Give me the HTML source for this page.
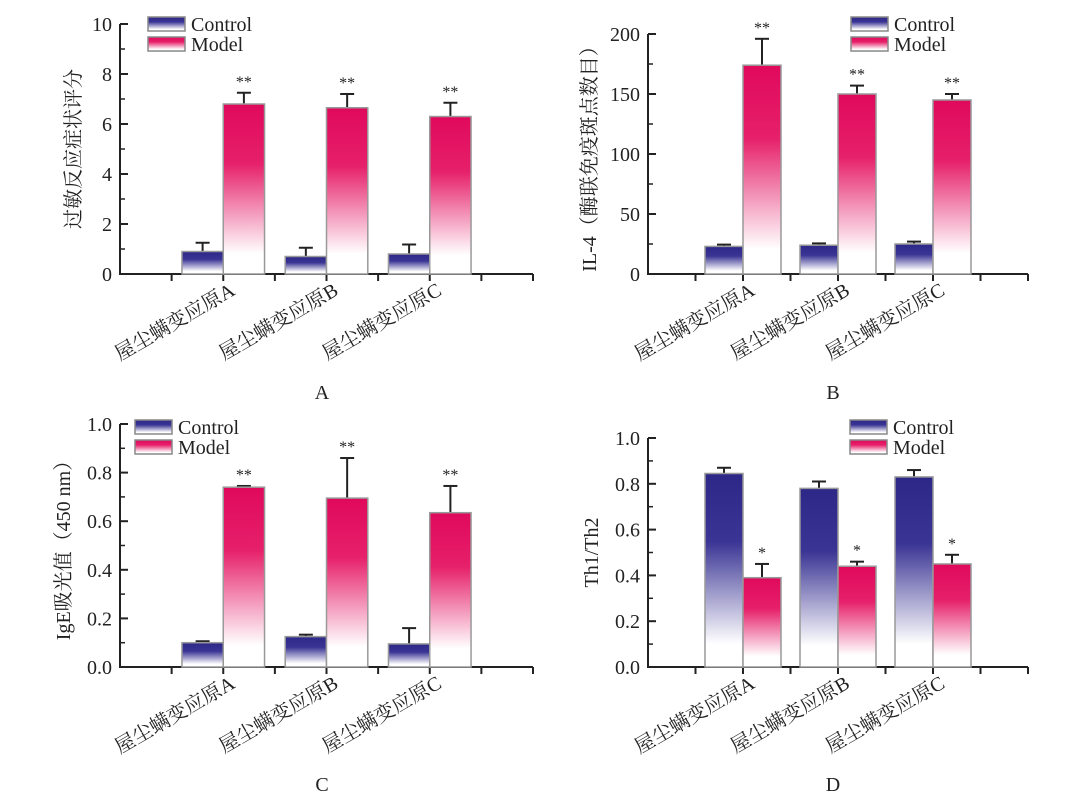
<!DOCTYPE html>
<html><head><meta charset="utf-8">
<style>
html,body{margin:0;padding:0;background:#fff;}
svg{display:block;font-family:"Liberation Serif","Noto Serif CJK SC",serif;}
</style></head>
<body>
<svg id="fig" width="1080" height="798" viewBox="0 0 1080 798" xmlns="http://www.w3.org/2000/svg">
<defs>
<linearGradient id="gC" x1="0" y1="0" x2="0" y2="1"><stop offset="0" stop-color="#2d2888"/><stop offset="0.35" stop-color="#3a3494"/><stop offset="0.88" stop-color="#ffffff"/></linearGradient>
<linearGradient id="gM" x1="0" y1="0" x2="0" y2="1"><stop offset="0" stop-color="#e0095c"/><stop offset="0.35" stop-color="#e6206a"/><stop offset="0.88" stop-color="#ffffff"/></linearGradient>
</defs>
</svg>
<script>
const categories = ["屋尘螨变应原A","屋尘螨变应原B","屋尘螨变应原C"];
const aControl = [0.9,0.7,0.8], aControlErr = [0.35,0.35,0.38];
const aModel = [6.8,6.65,6.3], aModelErr = [0.45,0.55,0.55];
const aTicks = ["0","2","4","6","8","10"];
const bControl = [23,24,25], bControlErr = [1.5,1.5,2];
const bModel = [174,150,145], bModelErr = [22,7,5];
const bTicks = ["0","50","100","150","200"];
const cControl = [0.1,0.125,0.095], cControlErr = [0.006,0.008,0.065];
const cModel = [0.74,0.695,0.635], cModelErr = [0.005,0.165,0.11];
const cTicks = ["0.0","0.2","0.4","0.6","0.8","1.0"];
const dControl = [0.845,0.78,0.83], dControlErr = [0.025,0.03,0.03];
const dModel = [0.39,0.44,0.45], dModelErr = [0.06,0.02,0.04];
const dTicks = ["0.0","0.2","0.4","0.6","0.8","1.0"];
const aStars = ["**","**","**"], bStars = ["**","**","**"], cStars = ["**","**","**"], dStars = ["*","*","*"];

const svg = document.getElementById('fig');
const NS = "http://www.w3.org/2000/svg";
function mk(tag, attrs, parent){const e=document.createElementNS(NS,tag);for(const k in attrs)e.setAttribute(k,attrs[k]);(parent||svg).appendChild(e);return e;}

function panel(o){
  const g = mk('g',{});
  
  
  const x0=o.x0, x1=o.x1, yTop=o.yTop, yBot=o.yBot, max=o.max;
  const ys = v => yBot - (v/max)*(yBot-yTop);
  const step=(x1-x0)/8;
  const xs = i => x0 + step*(2+2*i);
  const ax = mk('path',{d:`M${x0} ${yTop} V${yBot} H${x1}`,stroke:'#222','stroke-width':2,fill:'none'},g);
  
  
  for(let k=1;k<=8;k++){mk('line',{x1:x0+step*k,y1:yBot,x2:x0+step*k,y2:yBot+7,stroke:'#222','stroke-width':2},g);}
  const nT=o.ticks.length;
  for(let k=0;k<nT;k++){
    const v = max*k/(nT-1), y=ys(v);
    mk('line',{x1:x0,y1:y,x2:x0+8,y2:y,stroke:'#222','stroke-width':2},g);
    if(k<nT-1){const ym=ys(v+max/(nT-1)/2);mk('line',{x1:x0,y1:ym,x2:x0+5,y2:ym,stroke:'#222','stroke-width':1.5},g);}
    const t=mk('text',{x:x0-8,y:y+7,'text-anchor':'end','font-size':20,fill:'#222'},g);
    t.textContent=o.ticks[k];
    
    
  }
  const bw=step*0.8;
  for(let i=0;i<3;i++){
    const cx=xs(i);
    [[o.ctrl,o.ctrlErr,'url(#gC)',cx-bw,'control'],[o.model,o.modelErr,'url(#gM)',cx,'model']].forEach(([vals,errs,fill,bx,nm])=>{
      const v=vals[i], y=ys(v), ye=ys(v+errs[i]);
      mk('line',{x1:bx+bw/2,y1:y,x2:bx+bw/2,y2:ye,stroke:'#222','stroke-width':2},g);
      mk('line',{x1:bx+bw/2-7,y1:ye,x2:bx+bw/2+7,y2:ye,stroke:'#222','stroke-width':2},g);
      const r=mk('rect',{x:bx,y:y,width:bw,height:yBot-y,fill:fill,stroke:'#999','stroke-width':1.5},g);
      
      
    });
    const st=mk('text',{x:cx+bw/2,y:ys(o.model[i]+o.modelErr[i])-6,'text-anchor':'middle','font-size':16,fill:'#222'},g);
    st.textContent=o.stars[i];
    
    
    const lx=cx+13, ly=yBot+20;
    const xl=mk('text',{x:lx,y:ly,'text-anchor':'end','font-size':20,fill:'#222',transform:`rotate(-30 ${lx} ${ly})`},g);
    xl.textContent=categories[i];
    
    
  }
  const yt=mk('text',{x:o.ytx,y:(yTop+yBot)/2,'text-anchor':'middle','font-size':20,fill:'#222',transform:`rotate(-90 ${o.ytx} ${(yTop+yBot)/2})`},g);
  yt.textContent=o.ytitle;
  
  
  [['Control','url(#gC)',0],['Model','url(#gM)',1]].forEach(([lab,f,k])=>{
    const ly=o.legY+k*20;
    const sw=mk('rect',{x:o.legX,y:ly,width:37,height:14,fill:f,stroke:'#888','stroke-width':1.5},g);
    
    
    const lt=mk('text',{x:o.legX+43,y:ly+14,'font-size':20,fill:'#222'},g);
    lt.textContent=lab;
    
    
  });
  const pl=mk('text',{x:o.letterX,y:o.letterY,'text-anchor':'middle','font-size':20,fill:'#222'},g);
  pl.textContent=o.letter;
  
  
}
panel({name:'panel-a',x0:120,x1:533,yTop:24,yBot:274,max:10,ticks:aTicks,ctrl:aControl,ctrlErr:aControlErr,model:aModel,modelErr:aModelErr,stars:aStars,ytitle:'过敏反应症状评分',ytx:80,legX:148,legY:17,letter:'A',letterX:322,letterY:399});
panel({name:'panel-b',x0:648,x1:1028,yTop:34,yBot:274,max:200,ticks:bTicks,ctrl:bControl,ctrlErr:bControlErr,model:bModel,modelErr:bModelErr,stars:bStars,ytitle:'IL-4（酶联免疫斑点数目）',ytx:596,legX:851,legY:17,letter:'B',letterX:833,letterY:399});
panel({name:'panel-c',x0:120,x1:533,yTop:424,yBot:667,max:1,ticks:cTicks,ctrl:cControl,ctrlErr:cControlErr,model:cModel,modelErr:cModelErr,stars:cStars,ytitle:'IgE吸光值（450 nm）',ytx:70,legX:135,legY:420,letter:'C',letterX:322,letterY:791});
panel({name:'panel-d',x0:648,x1:1028,yTop:438,yBot:667,max:1,ticks:dTicks,ctrl:dControl,ctrlErr:dControlErr,model:dModel,modelErr:dModelErr,stars:dStars,ytitle:'Th1/Th2',ytx:598,legX:850,legY:420,letter:'D',letterX:833,letterY:791});
</script>
</body></html>
